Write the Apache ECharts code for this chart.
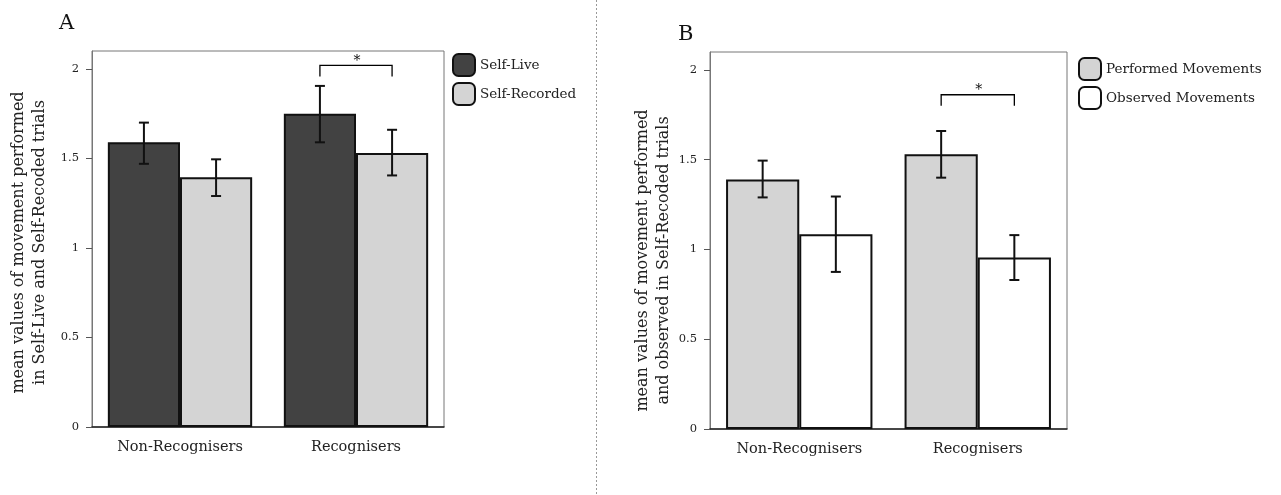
<!DOCTYPE html>
<html>
<head>
<meta charset="utf-8">
<script src="https://cdn.jsdelivr.net/npm/echarts@6/dist/echarts.min.js"></script>
<style>
  html, body { margin: 0; padding: 0; background: #fff; }
  #main1 { width: 1281px; height: 495px; }
</style>
</head>
<body>
<div id="main1"></div>
<script>
// shared
const categories = ['Non-Recognisers', 'Recognisers'];
const yTicks = [0, 0.5, 1, 1.5, 2];

// panel A: self-live vs self-recorded
const selfLive = [1.59, 1.75];
const selfLiveErr = [[1.47, 1.70], [1.59, 1.905]];
const selfRec = [1.395, 1.53];
const selfRecErr = [[1.29, 1.495], [1.405, 1.66]];
const bracketA = [[1, 2.02, 1.957]];   // [category, top, foot]

// panel B: performed vs observed
const performed = [1.39, 1.53];
const performedErr = [[1.29, 1.495], [1.40, 1.66]];
const observed = [1.085, 0.955];
const observedErr = [[0.875, 1.295], [0.83, 1.08]];
const bracketB = [[1, 1.862, 1.80]];

const FONT = 'DejaVu Serif';
const GAP = 0.18;

function errorSeries(err, side, idx) {
    return {
        type: 'custom',
        xAxisIndex: idx, yAxisIndex: idx, z: 10,
        data: err.map((e, i) => [i, e[0], e[1]]),
        renderItem: function (params, api) {
            const catW = api.size([1, 0])[0];
            const barW = catW * (1 - GAP) / 2;
            const lo = api.coord([api.value(0), api.value(1)]);
            const hi = api.coord([api.value(0), api.value(2)]);
            const x = lo[0] + side * barW / 2;
            const c = 5;
            const st = { stroke: '#111', lineWidth: 2 };
            return {
                type: 'group', children: [
                    { type: 'line', shape: { x1: x, y1: lo[1], x2: x, y2: hi[1] }, style: st },
                    { type: 'line', shape: { x1: x - c, y1: lo[1], x2: x + c, y2: lo[1] }, style: st },
                    { type: 'line', shape: { x1: x - c, y1: hi[1], x2: x + c, y2: hi[1] }, style: st }
                ]
            };
        }
    };
}

function bracketSeries(data, idx) {
    return {
        type: 'custom',
        xAxisIndex: idx, yAxisIndex: idx, z: 10,
        data: data,
        renderItem: function (params, api) {
            const catW = api.size([1, 0])[0];
            const barW = catW * (1 - GAP) / 2;
            const top = api.coord([api.value(0), api.value(1)]);
            const foot = api.coord([api.value(0), api.value(2)]);
            const xl = top[0] - barW / 2, xr = top[0] + barW / 2;
            return {
                type: 'group', children: [
                    { type: 'polyline', shape: { points: [[xl, foot[1]], [xl, top[1]], [xr, top[1]], [xr, foot[1]]] },
                      style: { stroke: '#000', lineWidth: 1.3, fill: null } },
                    { type: 'text', x: top[0] + 1, y: top[1] + 3,
                      style: { text: '*', fontFamily: FONT, fontSize: 14, fill: '#111', align: 'center', verticalAlign: 'bottom' } }
                ]
            };
        }
    };
}

function xAx(idx) {
    return {
        type: 'category', gridIndex: idx, data: categories,
        axisLine: { lineStyle: { color: '#222', width: 1.5 } },
        axisTick: { alignWithLabel: true, length: 5, lineStyle: { color: '#555' } },
        axisLabel: { fontFamily: FONT, fontSize: 14.5, color: '#222', margin: 13 }
    };
}

function yAx(idx, name, gap, shift) {
    return {
        type: 'value', gridIndex: idx, min: 0, max: 2.1, interval: 0.5,
        name: name, nameLocation: 'middle', nameGap: gap, nameRotate: 90,
        nameTextStyle: { fontFamily: FONT, fontSize: 16, color: '#222', lineHeight: 21, padding: [0, shift, 0, 0] },
        axisLine: { show: true, lineStyle: { color: '#777' } },
        axisTick: { show: true, length: 6, customValues: yTicks, lineStyle: { color: '#555' } },
        axisLabel: { customValues: yTicks, fontFamily: FONT, fontSize: 11.5, color: '#222', margin: 13 },
        splitLine: { show: false }
    };
}

function bar(name, data, color, idx) {
    return {
        name: name, type: 'bar', xAxisIndex: idx, yAxisIndex: idx,
        data: data, barGap: 0, barCategoryGap: (GAP * 100) + '%',
        itemStyle: { color: color, borderColor: '#111', borderWidth: 2 }
    };
}

const legendText = { fontFamily: FONT, fontSize: 13.5, color: '#222' };

let optionObj = {
    animation: false,
    title: [
        { text: 'A', left: 54, top: 8, textStyle: { fontFamily: FONT, fontSize: 21, fontWeight: 'normal', color: '#111' } },
        { text: 'B', left: 673, top: 19, textStyle: { fontFamily: FONT, fontSize: 21, fontWeight: 'normal', color: '#111' } }
    ],
    legend: [
        { data: ['Self-Live', 'Self-Recorded'], orient: 'vertical', left: 447, top: 48,
          icon: 'roundRect', itemWidth: 22, itemHeight: 22, itemGap: 5, textStyle: legendText },
        { data: ['Performed Movements', 'Observed Movements'], orient: 'vertical', left: 1073, top: 52,
          icon: 'roundRect', itemWidth: 22, itemHeight: 22, itemGap: 5, textStyle: legendText }
    ],
    grid: [
        { left: 92, top: 51, right: 837, bottom: 68, show: true, borderColor: '#777', borderWidth: 1 },
        { left: 710, top: 52, right: 214, bottom: 66, show: true, borderColor: '#777', borderWidth: 1 }
    ],
    xAxis: [xAx(0), xAx(1)],
    yAxis: [
        yAx(0, 'mean values of movement performed\nin Self-Live and Self-Recoded trials', 42, 7),
        yAx(1, 'mean values of movement performed\nand observed in Self-Recoded trials', 28, 40)
    ],
    graphic: [
        { type: 'line', shape: { x1: 596.5, y1: 0, x2: 596.5, y2: 495 },
          style: { stroke: '#999', lineWidth: 1, lineDash: [2, 2] } }
    ],
    series: [
        bar('Self-Live', selfLive, '#424242', 0),
        bar('Self-Recorded', selfRec, '#d4d4d4', 0),
        errorSeries(selfLiveErr, -1, 0),
        errorSeries(selfRecErr, 1, 0),
        bracketSeries(bracketA, 0),
        bar('Performed Movements', performed, '#d4d4d4', 1),
        bar('Observed Movements', observed, '#ffffff', 1),
        errorSeries(performedErr, -1, 1),
        errorSeries(observedErr, 1, 1),
        bracketSeries(bracketB, 1)
    ]
};

let myChart = echarts.init(document.getElementById('main1'));
myChart.setOption(optionObj);
</script>
</body>
</html>
